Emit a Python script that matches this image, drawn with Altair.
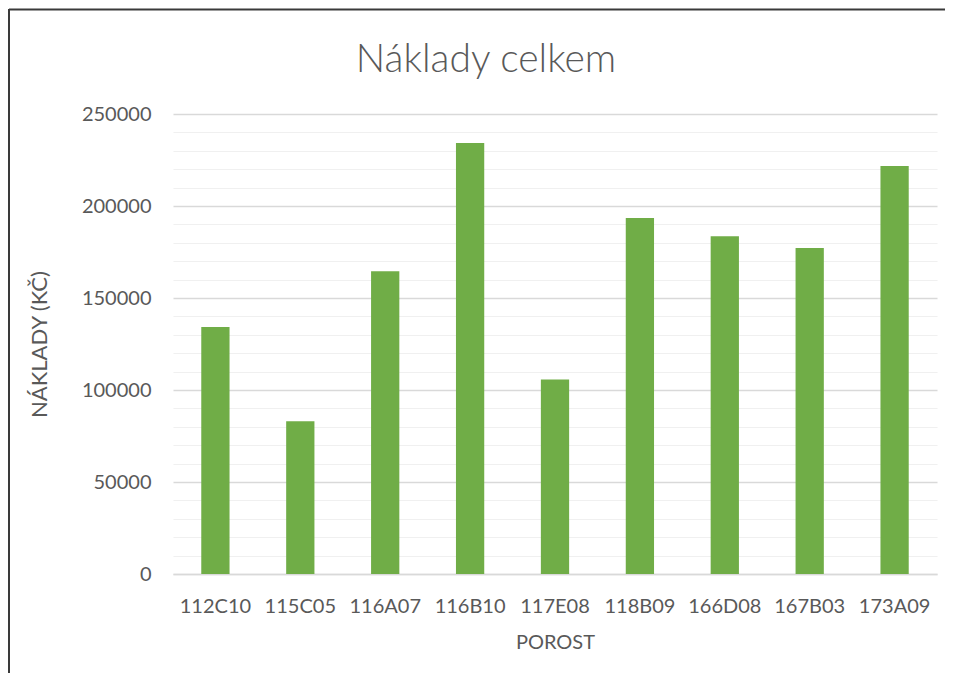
import altair as alt
import pandas as pd

categories = ["112C10", "115C05", "116A07", "116B10", "117E08", "118B09", "166D08", "167B03", "173A09"]
values = [134200, 83000, 164600, 234200, 105700, 193500, 183500, 177200, 221700]
y_ticks = list(range(0, 260000, 10000))

df = pd.DataFrame({"porost": categories, "naklady": values})

FONT = "Lato"
TXT = "#595959"

bars = alt.Chart(df).mark_bar(color="#70AD47").encode(
    x=alt.X(
        "porost:N",
        sort=categories,
        title="POROST",
        scale=alt.Scale(paddingInner=0.667, paddingOuter=0.333),
        axis=alt.Axis(
            labelAngle=0, labelFont=FONT, labelFontSize=20, labelColor=TXT,
            labelPadding=22, ticks=False, domainColor="#D9D9D9", domainWidth=1.5,
            titleFont=FONT, titleFontSize=20, titleColor=TXT, titleFontWeight="normal",
            titlePadding=16,
        ),
    ),
    y=alt.Y(
        "naklady:Q",
        title="NÁKLADY (KČ)",
        scale=alt.Scale(domain=[0, 250000], nice=False),
        axis=alt.Axis(
            values=y_ticks,
            labelExpr="datum.value % 50000 === 0 ? datum.value : ''",
            labelFont=FONT, labelFontSize=20, labelColor=TXT, labelPadding=22,
            ticks=False, domain=False,
            gridColor={"condition": {"test": "datum.value % 50000 === 0", "value": "#D9D9D9"}, "value": "#F0F0F0"},
            gridWidth={"condition": {"test": "datum.value % 50000 === 0", "value": 1.5}, "value": 1.2},
            titleFont=FONT, titleFontSize=22, titleColor=TXT, titleFontWeight="normal",
            titlePadding=30,
        ),
    ),
)

frame_top = alt.Chart(alt.Data(values=[{}])).mark_rule(color="#3a3a3a", strokeWidth=2).encode(
    x=alt.value(-164), x2=alt.value(772), y=alt.value(-104.5)
)
frame_left = alt.Chart(alt.Data(values=[{}])).mark_rule(color="#3a3a3a", strokeWidth=2).encode(
    x=alt.value(-164), y=alt.value(-105), y2=alt.value(600)
)

chart = alt.layer(bars, frame_top, frame_left).properties(
    width=764,
    height=460,
    title=alt.TitleParams(
        "Náklady celkem", font=FONT, fontSize=39, fontWeight=300, color=TXT,
        anchor="middle", frame="group", dx=-69, offset=10, dy=82,
    ),
    autosize=alt.AutoSizeParams(type="none"),
    padding={"left": 165, "top": 106, "right": 9, "bottom": 99},
).configure_view(stroke=None)

chart.save("out.html", embed_options={"renderer": "svg", "actions": False})
